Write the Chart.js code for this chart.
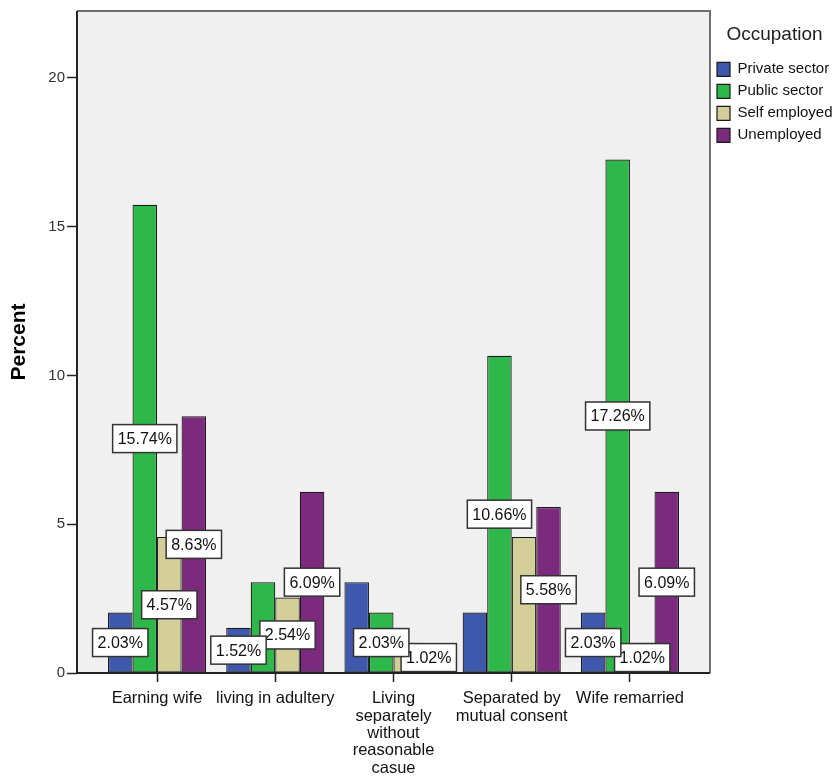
<!DOCTYPE html>
<html>
<head>
<meta charset="utf-8">
<script src="https://cdn.jsdelivr.net/npm/chart.js@4"></script>
<style>
  html, body { margin: 0; padding: 0; background: #fff; }
</style>
</head>
<body>
<canvas id="myChart" width="839" height="778"></canvas>
<script>
const categories = [
  ['Earning wife'],
  ['living in adultery'],
  ['Living', 'separately', 'without', 'reasonable', 'casue'],
  ['Separated by', 'mutual consent'],
  ['Wife remarried']
];
const seriesNames = ['Private sector', 'Public sector', 'Self employed', 'Unemployed'];
const privateSector = [2.03, 1.52, 3.05, 2.03, 2.03];
const publicSector = [15.74, 3.05, 2.03, 10.66, 17.26];
const selfEmployed = [4.57, 2.54, 1.02, 4.57, 1.02];
const unemployed = [8.63, 6.09, 0, 5.58, 6.09];
const yTicks = [0, 5, 10, 15, 20];

const colors = ['#3e58ac', '#2eb84a', '#d4cf98', '#7b2a7e'];
const FONT = '"Liberation Sans", Arial, sans-serif';

const toPoints = (arr) => arr.map((v, i) => ({ x: i, y: v }));

// grey plot box with its outline
const plotFrame = {
  id: 'plotFrame',
  beforeDatasetsDraw(chart) {
    const a = chart.chartArea, ctx = chart.ctx;
    ctx.save();
    ctx.fillStyle = '#f0f0f0';
    ctx.fillRect(a.left, a.top, a.right - a.left, a.bottom - a.top);
    ctx.restore();
  },
  afterDatasetsDraw(chart) {
    const a = chart.chartArea, ctx = chart.ctx;
    ctx.save();
    ctx.lineWidth = 2;
    ctx.strokeStyle = '#6e6e6e';
    ctx.beginPath();
    ctx.moveTo(a.left, a.top);
    ctx.lineTo(a.right, a.top);
    ctx.lineTo(a.right, a.bottom);
    ctx.stroke();
    ctx.strokeStyle = '#222';
    ctx.beginPath();
    ctx.moveTo(a.left, a.top);
    ctx.lineTo(a.left, a.bottom);
    ctx.lineTo(a.right, a.bottom);
    ctx.stroke();
    ctx.restore();
  }
};

// white boxed percentage labels at bar mid-height
const barLabels = {
  id: 'barLabels',
  afterDatasetsDraw(chart, args, opts) {
    const ctx = chart.ctx;
    ctx.save();
    ctx.font = '16px ' + FONT;
    ctx.textAlign = 'center';
    ctx.textBaseline = 'middle';
    for (let d = chart.data.datasets.length - 1; d >= 0; d--) {
      const meta = chart.getDatasetMeta(d);
      meta.data.forEach((bar, i) => {
        const v = chart.data.datasets[d].data[i].y;
        const key = d + ':' + i;
        if (!v || opts.hidden.includes(key)) return;
        const text = v.toFixed(2) + '%';
        const w = ctx.measureText(text).width + 10;
        const h = 28;
        const cx = bar.x + (opts.shift[key] || 0);
        const cy = (bar.y + bar.base) / 2;
        ctx.fillStyle = '#fff';
        ctx.fillRect(cx - w / 2, cy - h / 2, w, h);
        ctx.lineWidth = 1.5;
        ctx.strokeStyle = '#333';
        ctx.strokeRect(cx - w / 2, cy - h / 2, w, h);
        ctx.fillStyle = '#111';
        ctx.fillText(text, cx, cy + 1);
      });
    }
    ctx.restore();
  }
};

new Chart(document.getElementById('myChart'), {
  type: 'bar',
  data: {
    datasets: [privateSector, publicSector, selfEmployed, unemployed].map((arr, d) => ({
      label: seriesNames[d],
      data: toPoints(arr),
      backgroundColor: colors[d],
      borderColor: '#1a1a1a',
      borderWidth: 1.2,
      borderSkipped: false
    }))
  },
  options: {
    responsive: false,
    animation: false,
    layout: { padding: { top: 10, right: 0, left: 0, bottom: 0 } },
    datasets: { bar: { categoryPercentage: 0.83, barPercentage: 1 } },
    scales: {
      x: {
        type: 'linear',
        offset: false,
        bounds: 'data',
        min: -0.677,
        max: 4.677,
        afterBuildTicks: (s) => { s.ticks = categories.map((c, i) => ({ value: i })); },
        afterFit: (s) => { s.height = 105; },
        ticks: {
          callback: (v) => categories[v],
          autoSkip: false,
          maxRotation: 0,
          padding: 8,
          color: '#111',
          font: { family: FONT, size: 16.5, lineHeight: 1.05 }
        },
        grid: { drawOnChartArea: false, offset: false, tickLength: 9, color: '#222', tickWidth: 1.5 },
        border: { display: false }
      },
      y: {
        min: 0,
        max: 22.25,
        afterBuildTicks: (s) => { s.ticks = yTicks.map(v => ({ value: v })); },
        afterFit: (s) => { s.width = 77; },
        ticks: { padding: 2, color: '#333', font: { family: FONT, size: 15 } },
        grid: { drawOnChartArea: false, tickLength: 10, color: '#222', tickWidth: 1.5 },
        border: { display: false },
        title: {
          display: true,
          text: 'Percent',
          color: '#000',
          font: { family: FONT, size: 21, weight: 'bold' },
          padding: { top: 7, bottom: 0 }
        }
      }
    },
    plugins: {
      legend: {
        position: 'right',
        align: 'start',
        maxWidth: 129,
        title: {
          display: true,
          text: 'Occupation',
          color: '#222',
          font: { family: FONT, size: 19 },
          padding: { top: 15, bottom: 7 }
        },
        labels: {
          boxWidth: 13,
          boxHeight: 14,
          padding: 7,
          color: '#111',
          font: { family: FONT, size: 15 }
        }
      },
      tooltip: { enabled: false },
      barLabels: {
        hidden: ['1:1', '0:2', '0:3', '2:3'],
        shift: { '2:2': 23 }
      }
    }
  },
  plugins: [plotFrame, barLabels]
});
</script>
</body>
</html>
